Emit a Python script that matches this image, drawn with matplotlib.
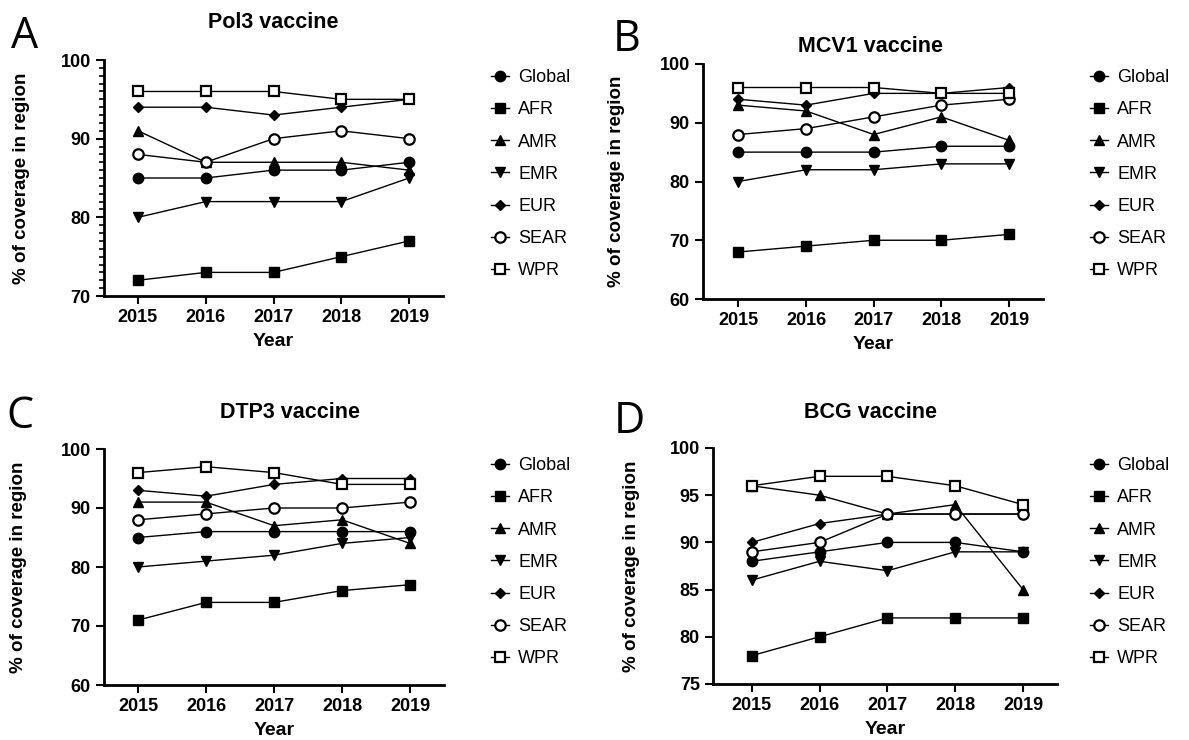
import matplotlib
matplotlib.use("Agg")
import matplotlib.pyplot as plt
from matplotlib.ticker import MultipleLocator

plt.rcParams['font.family'] = ['Liberation Sans', 'DejaVu Sans']

years = [2015, 2016, 2017, 2018, 2019]
regions = ['Global', 'AFR', 'AMR', 'EMR', 'EUR', 'SEAR', 'WPR']

# coverage (%) per region, order as in `regions`
pol3 = [
    [85, 85, 86, 86, 87],
    [72, 73, 73, 75, 77],
    [91, 87, 87, 87, 86],
    [80, 82, 82, 82, 85],
    [94, 94, 93, 94, 95],
    [88, 87, 90, 91, 90],
    [96, 96, 96, 95, 95],
]
mcv1 = [
    [85, 85, 85, 86, 86],
    [68, 69, 70, 70, 71],
    [93, 92, 88, 91, 87],
    [80, 82, 82, 83, 83],
    [94, 93, 95, 95, 96],
    [88, 89, 91, 93, 94],
    [96, 96, 96, 95, 95],
]
dtp3 = [
    [85, 86, 86, 86, 86],
    [71, 74, 74, 76, 77],
    [91, 91, 87, 88, 84],
    [80, 81, 82, 84, 85],
    [93, 92, 94, 95, 95],
    [88, 89, 90, 90, 91],
    [96, 97, 96, 94, 94],
]
bcg = [
    [88, 89, 90, 90, 89],
    [78, 80, 82, 82, 82],
    [96, 95, 93, 94, 85],
    [86, 88, 87, 89, 89],
    [90, 92, 93, 93, 93],
    [89, 90, 93, 93, 93],
    [96, 97, 97, 96, 94],
]

titles = ['Pol3 vaccine', 'MCV1 vaccine', 'DTP3 vaccine', 'BCG vaccine']
letters = ['A', 'B', 'C', 'D']

# marker, filled?, size
styles = {
    'Global': ('o', True, 7.5),
    'AFR': ('s', True, 7),
    'AMR': ('^', True, 7.5),
    'EMR': ('v', True, 7.5),
    'EUR': ('D', True, 5),
    'SEAR': ('o', False, 7.5),
    'WPR': ('s', False, 7.5),
}

W, H = 1189, 740
fig = plt.figure(figsize=(W / 100, H / 100), dpi=100)


def rect(left, top, right, bottom):
    return [left / W, 1 - bottom / H, (right - left) / W, (bottom - top) / H]


panels = [
    dict(data=pol3, r=rect(104, 60, 443, 296), ylim=(70, 100), step=10, minor=1,
         xlim=(2014.5, 2019.5), leg=(484, 62), letter=(11, 48), title=(273, 22),
         ylab=-0.218),
    dict(data=mcv1, r=rect(703, 64, 1043, 299), ylim=(60, 100), step=10, minor=None,
         xlim=(2014.48, 2019.5), leg=(1083, 62), letter=(613, 51), title=(870, 47),
         ylab=-0.229),
    dict(data=dtp3, r=rect(104, 449, 444, 685), ylim=(60, 100), step=10, minor=None,
         xlim=(2014.5, 2019.5), leg=(484, 450), letter=(6, 428), title=(290, 412),
         ylab=-0.226),
    dict(data=bcg, r=rect(713, 448, 1057, 684), ylim=(75, 100), step=5, minor=None,
         xlim=(2014.43, 2019.5), leg=(1083, 450), letter=(614, 433), title=(870, 412),
         ylab=-0.212),
]

for i, p in enumerate(panels):
    ax = fig.add_axes(p['r'])
    handles = []
    for name, vals in zip(regions, p['data']):
        m, filled, ms = styles[name]
        h, = ax.plot(years, vals, color='black', lw=1.0, marker=m, markersize=ms,
                     markerfacecolor='black' if filled else 'white',
                     markeredgecolor='black', markeredgewidth=1.6 if not filled else 1.0,
                     label=name)
        handles.append(h)

    ax.set_xlim(*p['xlim'])
    ax.set_ylim(*p['ylim'])
    ax.set_xticks(years)
    ax.yaxis.set_major_locator(MultipleLocator(p['step']))
    if p['minor']:
        ax.yaxis.set_minor_locator(MultipleLocator(p['minor']))
    for s in ['top', 'right']:
        ax.spines[s].set_visible(False)
    for s in ['left', 'bottom']:
        ax.spines[s].set_linewidth(2)
    ax.tick_params(axis='both', width=1.5, length=6, labelsize=13)
    ax.tick_params(axis='y', which='minor', width=1.2, length=3.5)
    for lab in ax.get_xticklabels() + ax.get_yticklabels():
        lab.set_fontweight('bold')
    ax.set_xlabel('Year', fontsize=14, fontweight='bold', labelpad=5)
    ax.set_ylabel('% of coverage in region', fontsize=13.5, fontweight='bold')
    ax.yaxis.set_label_coords(p['ylab'], 0.5)

    tx, ty = p['title']
    fig.text(tx / W, 1 - ty / H, titles[i], fontsize=15.5, fontweight='bold',
             ha='center', va='center')
    lx, ly = p['letter']
    fig.text(lx / W, 1 - ly / H, letters[i], fontsize=31, family='Open Sans',
             ha='left', va='baseline')

    gx, gy = p['leg']
    fig.legend(handles=handles, loc='upper left',
               bbox_to_anchor=(gx / W, 1 - gy / H), frameon=False,
               fontsize=13, handlelength=1.0, handletextpad=0.5,
               labelspacing=0.84, borderaxespad=0)

fig.savefig('out.png', dpi=100)
